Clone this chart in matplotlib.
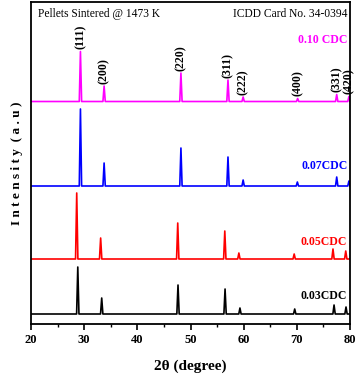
import matplotlib.pyplot as plt

# XRD patterns of CDC pellets sintered at 1473 K (intensity in arbitrary units)
hkl = ['(111)', '(200)', '(220)', '(311)', '(222)', '(400)', '(331)', '(420)']
samples = ['0.03CDC', '0.05CDC', '0.07CDC', '0.10 CDC']
colors = ['black', 'red', 'blue', '#FF00FF']
offsets = [10, 65, 138, 222.5]

pos_003 = [28.8, 33.3, 47.65, 56.5, 59.3, 69.6, 77.0, 79.25]
pos_005 = [28.6, 33.1, 47.6, 56.45, 59.1, 69.5, 76.8, 79.2]
pos_007 = [29.3, 33.75, 48.2, 57.05, 59.9, 70.1, 77.5, 79.8]
pos_010 = [29.3, 33.75, 48.2, 57.05, 59.9, 70.15, 77.5, 79.8]

int_003 = [47, 16, 29, 25, 6, 5, 9, 7]
int_005 = [66, 21, 36, 28, 6, 5, 10, 8]
int_007 = [77, 23, 38, 29, 6, 4, 9, 5]
int_010 = [50, 15.5, 28.5, 21.5, 4.5, 3, 7, 5]

positions = [pos_003, pos_005, pos_007, pos_010]
intensities = [int_003, int_005, int_007, int_010]

plt.rcParams['font.family'] = ['Liberation Serif', 'DejaVu Serif']

fig = plt.figure(figsize=(3.57, 3.76), dpi=100)
ax = fig.add_axes([31/357, 52/376, 319/357, 322/376])

hw = 0.22  # half width of the peak foot, degrees
for pos, hts, base, col in zip(positions, intensities, offsets, colors):
    x = [20]
    y = [base]
    for p, h in zip(pos, hts):
        x += [p - hw, p, p + hw]
        y += [base, base + h, base]
    x.append(80)
    y.append(base)
    ax.plot(x, y, color=col, lw=1.2)

# hkl labels above the top pattern
for lab, p, h in zip(hkl, pos_010, int_010):
    ax.annotate(lab, (p, offsets[3] + h), xytext=(0, 1.5), textcoords='offset points',
                rotation=90, ha='center', va='bottom', fontsize=8.5, fontweight='bold')

label_y = [28, 82, 158, 284]
for s, col, ly in zip(samples, colors, label_y):
    ax.text(79.5, ly, s, color=col, ha='right', va='center', fontsize=8.5, fontweight='bold')

ax.text(21.3, 310, 'Pellets Sintered @ 1473 K', ha='left', va='center', fontsize=8.3)
ax.text(79.5, 310, 'ICDD Card No. 34-0394', ha='right', va='center', fontsize=8.3)

ax.set_xlim(20, 80)
ax.set_ylim(0, 322)
ax.set_xticks(range(20, 81, 10))
ax.set_xticks(range(25, 80, 10), minor=True)
ax.set_yticks([])
ax.tick_params(axis='x', which='major', length=4, width=1.2, direction='out', pad=3, labelsize=9)
ax.tick_params(axis='x', which='minor', length=2.5, width=1.0, direction='out')
for lbl in ax.get_xticklabels():
    lbl.set_fontweight('bold')
for sp in ax.spines.values():
    sp.set_linewidth(1.3)

ax.set_xlabel('2\u03b8 (degree)', fontsize=11, fontweight='bold', labelpad=10)
ax.set_ylabel('I n t e n s i t y  ( a . u )', fontsize=9.5, fontweight='bold', labelpad=6)

fig.savefig('out.png', dpi=100)
